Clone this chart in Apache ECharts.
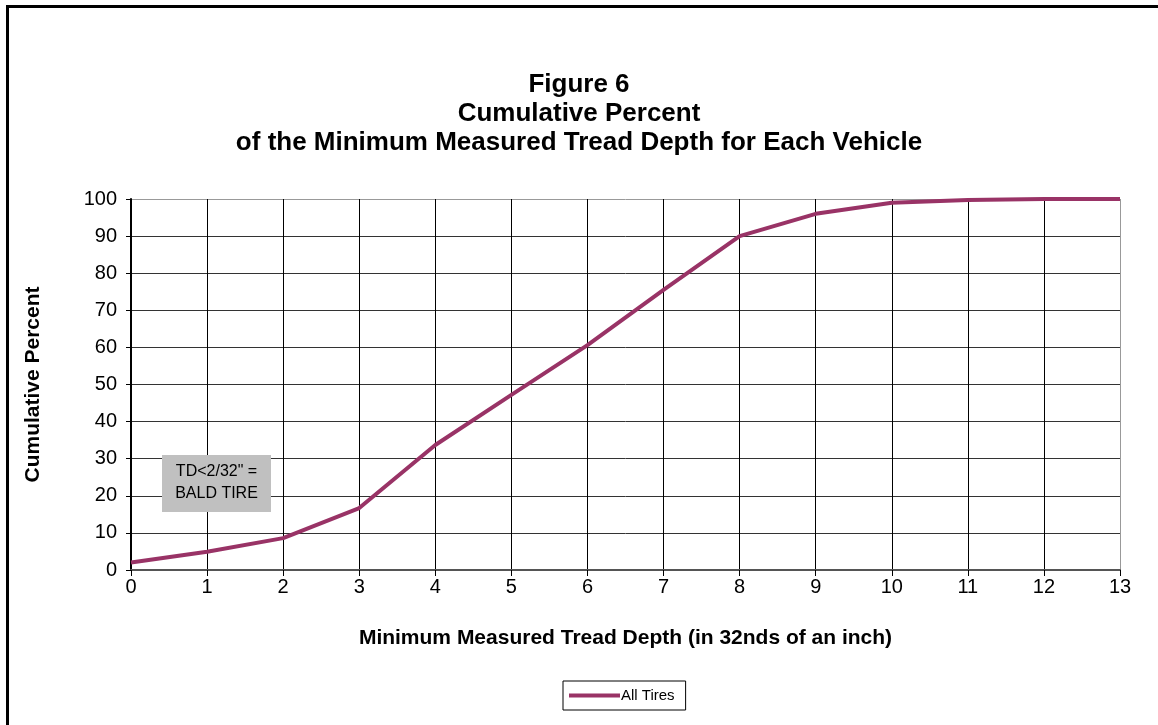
<!DOCTYPE html>
<html>
<head>
<meta charset="utf-8">
<script src="https://cdn.jsdelivr.net/npm/echarts@6/dist/echarts.min.js"></script>
<style>
  html, body { margin: 0; padding: 0; background: #fff; }
  #frame {
    position: absolute; left: 6px; top: 5px; width: 1200px; height: 800px;
    border-left: 3px solid #000; border-top: 3px solid #000; box-sizing: border-box;
  }
  #chart { position: absolute; left: 0; top: 0; width: 1158px; height: 725px; }
</style>
</head>
<body>
<div id="frame"></div>
<div id="chart"></div>
<script>
// tread depth in 32nds of an inch
const depths = [0, 1, 2, 3, 4, 5, 6, 7, 8, 9, 10, 11, 12, 13]
const cumulativePercent = [2, 4.9, 8.6, 16.7, 33.7, 47.2, 60.6, 75.5, 90, 96, 99, 99.7, 100, 100]
const titleLines = ['Figure 6', 'Cumulative Percent', 'of the Minimum Measured Tread Depth for Each Vehicle']
const noteLines = ['TD<2/32" =', 'BALD TIRE']

const font = '"Liberation Sans", Arial, sans-serif'
const plum = '#993366'

const chart = echarts.init(document.getElementById('chart'))

// last gridline on each axis is the grey plot border
const ySplitColors = depths.slice(0, 10).map(() => '#333').concat(['#999'])
const xSplitColors = depths.slice(0, 13).map(() => '#000').concat(['#999'])

// grey note box in the lower left of the plot
const noteBox = { x: 162, y: 455, w: 109, h: 57 }
const noteText = noteLines.map((line, i) => ({
  type: 'text',
  z: 51,
  x: noteBox.x + noteBox.w / 2,
  y: noteBox.y + 17 + i * 22,
  style: {
    text: line,
    fontFamily: font,
    fontSize: 16,
    fill: '#000',
    align: 'center',
    verticalAlign: 'middle'
  }
}))

chart.setOption({
  animation: false,
  textStyle: { fontFamily: font },
  title: {
    text: titleLines.join('\n'),
    left: 'center',
    top: 65,
    textStyle: { fontFamily: font, fontSize: 26, fontWeight: 'bold', color: '#000', lineHeight: 29 }
  },
  grid: { left: 131, right: 38, top: 199, bottom: 155 },
  xAxis: {
    type: 'value',
    min: 0,
    max: 13,
    interval: 1,
    name: 'Minimum Measured Tread Depth (in 32nds of an inch)',
    nameLocation: 'middle',
    nameGap: 58,
    nameTextStyle: { fontFamily: font, fontSize: 21, fontWeight: 'bold', color: '#000' },
    axisLine: { lineStyle: { color: '#555', width: 2 } },
    axisTick: { inside: false, length: 6, lineStyle: { color: '#000' } },
    axisLabel: { fontFamily: font, fontSize: 20, color: '#000', margin: 7 },
    splitLine: { show: true, lineStyle: { color: xSplitColors, width: 1 } }
  },
  yAxis: {
    type: 'value',
    min: 0,
    max: 100,
    interval: 10,
    name: 'Cumulative Percent',
    nameLocation: 'middle',
    nameGap: 87,
    nameTextStyle: { fontFamily: font, fontSize: 21, fontWeight: 'bold', color: '#000' },
    axisLine: { show: true, lineStyle: { color: '#000', width: 2 } },
    axisTick: { show: true, inside: false, length: 5, lineStyle: { color: '#000' } },
    axisLabel: { fontFamily: font, fontSize: 20, color: '#000', margin: 14 },
    splitLine: { show: true, lineStyle: { color: ySplitColors, width: 1 } }
  },
  legend: {
    bottom: 15,
    left: 563,
    data: ['All Tires'],
    icon: 'rect',
    itemWidth: 51,
    itemHeight: 4,
    itemGap: 0,
    padding: [7, 11, 7, 6],
    borderColor: '#000',
    borderWidth: 1,
    borderRadius: 0,
    textStyle: { fontFamily: font, fontSize: 15, color: '#000', padding: [0, 0, 0, -4] }
  },
  graphic: [
    {
      type: 'rect',
      z: 50,
      shape: { x: noteBox.x, y: noteBox.y, width: noteBox.w, height: noteBox.h },
      style: { fill: '#c0c0c0' }
    },
    ...noteText
  ],
  series: [
    {
      name: 'All Tires',
      type: 'line',
      data: depths.map((d, i) => [d, cumulativePercent[i]]),
      symbol: 'none',
      lineStyle: { color: plum, width: 4 },
      itemStyle: { color: plum }
    }
  ]
})
</script>
</body>
</html>
